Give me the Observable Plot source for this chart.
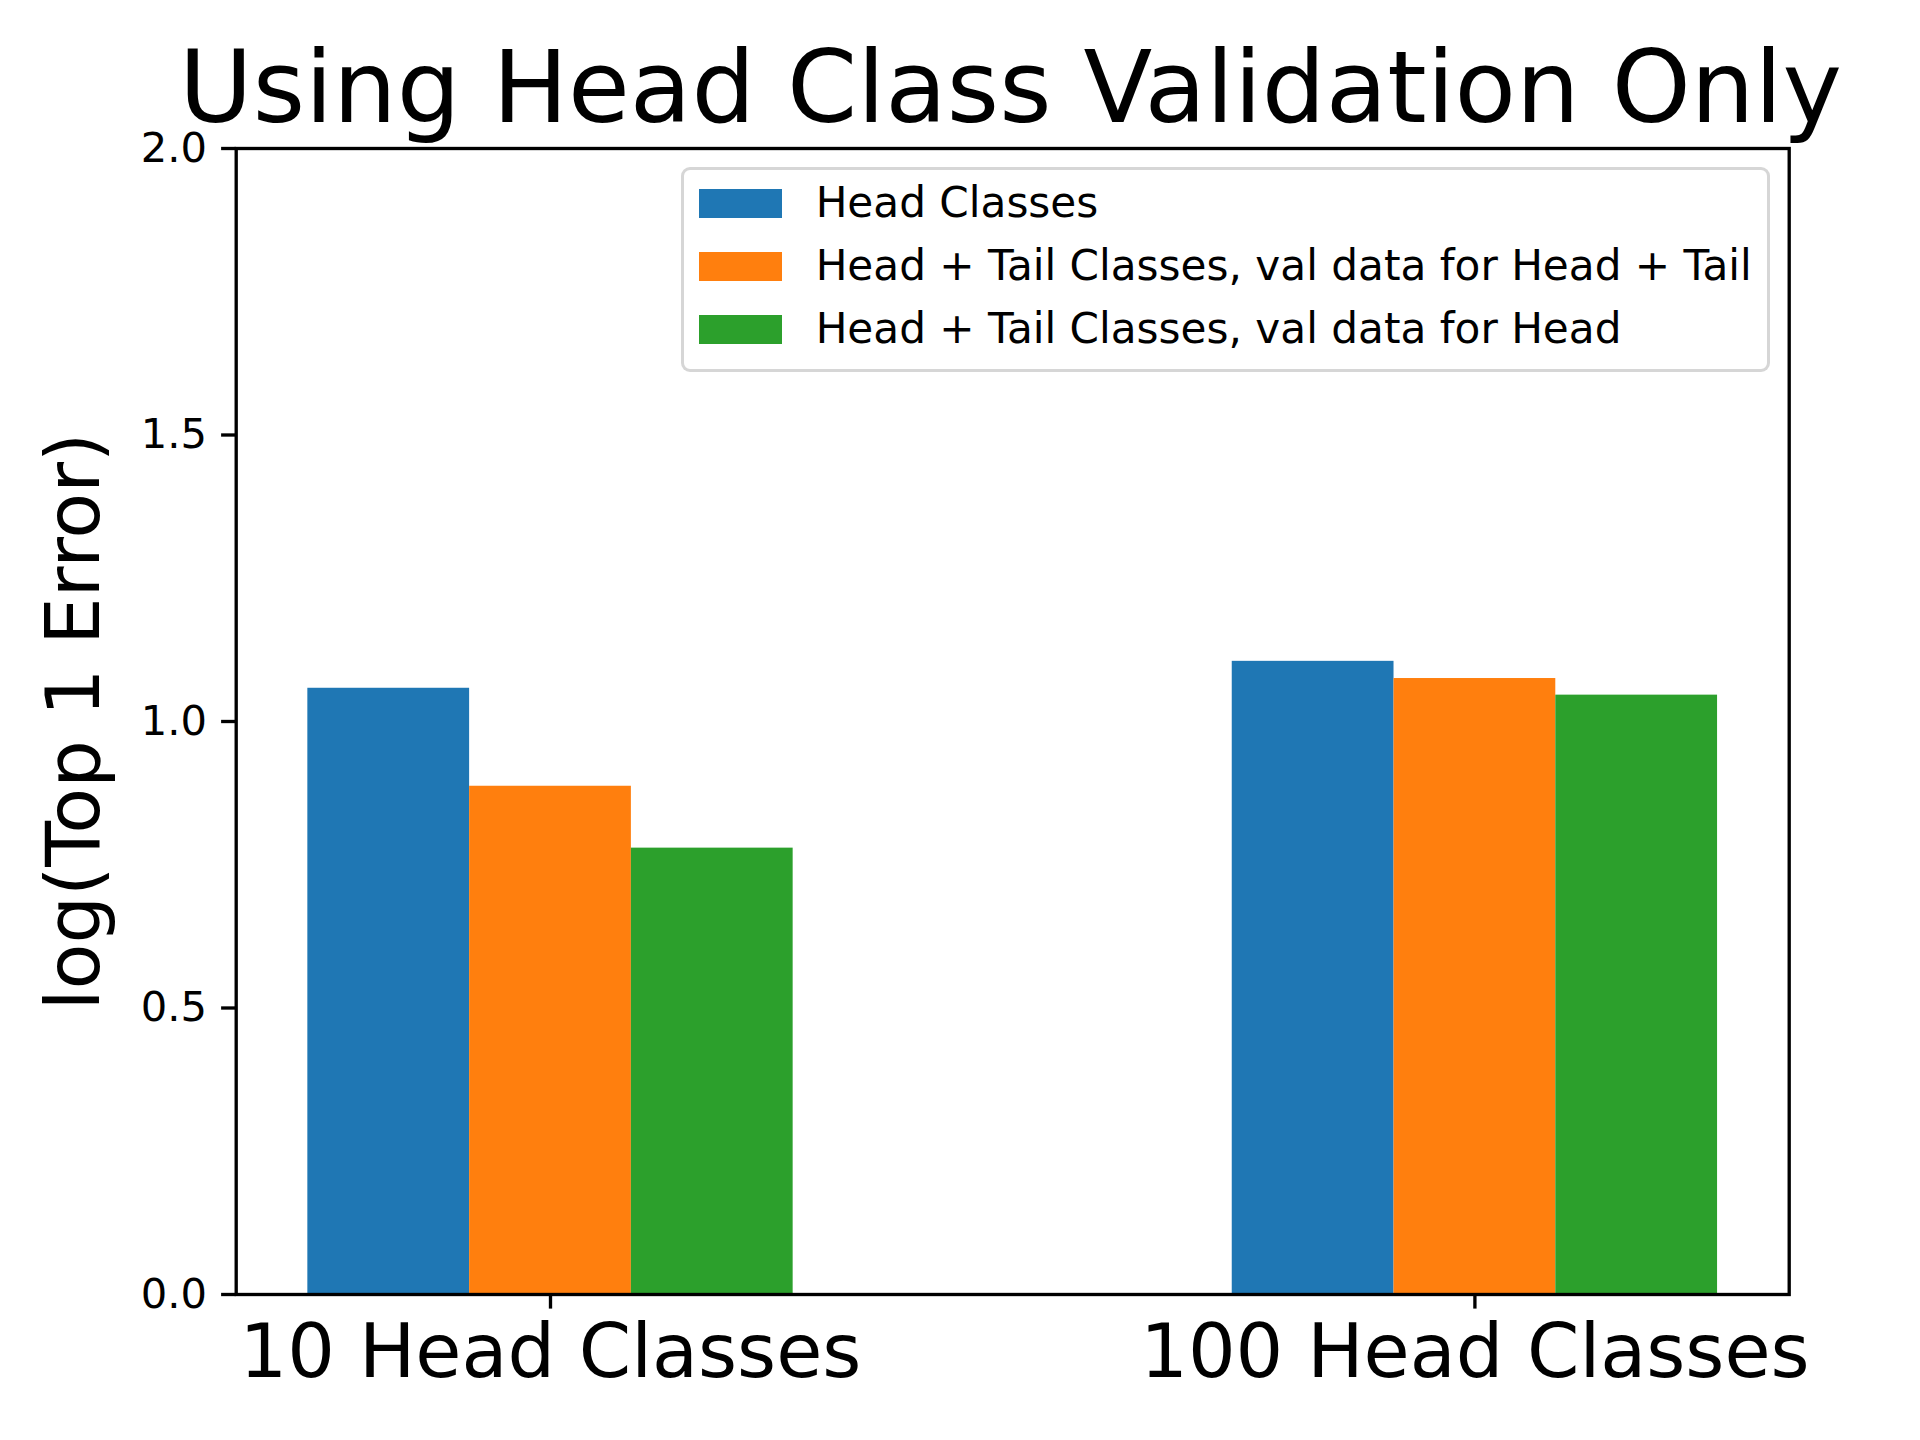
<!DOCTYPE html>
<html>
<head>
<meta charset="utf-8">
<script src="https://cdn.jsdelivr.net/npm/d3@7"></script>
<script src="https://cdn.jsdelivr.net/npm/@observablehq/plot@0.6"></script>
<style>
  html, body { margin: 0; padding: 0; background: white; }
  #wrap { position: relative; width: 1920px; height: 1440px; font-family: "DejaVu Sans", sans-serif; color: black; overflow: hidden; }
  #title { position: absolute; left: 1010.5px; top: 53.1px; transform: translateX(-50%); font-size: 100.5px; line-height: 70px; white-space: nowrap; }
  #legend { position: absolute; right: 150.3px; top: 166.8px; height: 204.8px; box-sizing: border-box; border: 3.33px solid rgba(204,204,204,0.8); border-radius: 9px; background: rgba(255,255,255,0.8); padding: 0 15px 0 15px; }
  .row { position: relative; height: 63.1px; display: flex; align-items: flex-start; }
  .sw { width: 83.3px; height: 28.6px; flex: none; margin-right: 33.3px; }
  .lt { font-size: 42.2px; line-height: 42.2px; white-space: nowrap; margin-top: -7.1px; }
</style>
</head>
<body>
<div id="wrap">
  <div id="chart"></div>
  <div id="title"></div>
  <div id="legend"></div>
</div>
<script>
const titleText = "Using Head Class Validation Only";
const yLabel = "log(Top 1 Error)";
const categories = ["10 Head Classes", "100 Head Classes"];
const series = [
  "Head Classes",
  "Head + Tail Classes, val data for Head + Tail",
  "Head + Tail Classes, val data for Head"
];
const headValues = [1.058, 1.105];
const headTailAllValValues = [0.887, 1.075];
const headTailHeadValValues = [0.779, 1.046];
const colors = ["#1f77b4", "#ff7f0e", "#2ca02c"];
const yTicks = [0, 0.5, 1.0, 1.5, 2.0];
const barWidth = 0.175;

const seriesValues = [headValues, headTailAllValValues, headTailHeadValValues];
const data = [];
seriesValues.forEach((vals, s) => {
  vals.forEach((v, g) => {
    data.push({group: g, category: categories[g], series: series[s], offset: s - 1, value: v});
  });
});

const W = 1920, H = 1440;
const plot = Plot.plot({
  width: W,
  height: H,
  marginLeft: 235.7,
  marginRight: 131.3,
  marginTop: 148,
  marginBottom: 146,
  style: {fontFamily: "DejaVu Sans, sans-serif", background: "white", color: "black", overflow: "visible"},
  x: {domain: [-0.34, 1.34]},
  y: {domain: [0, 2]},
  color: {domain: series, range: colors},
  marks: [
    Plot.rect(data, {
      x1: d => d.group + (d.offset - 0.5) * barWidth,
      x2: d => d.group + (d.offset + 0.5) * barWidth,
      y1: 0,
      y2: "value",
      fill: "series"
    }),
    Plot.frame({stroke: "black", strokeWidth: 3.33}),
    Plot.axisY({ticks: yTicks, tickFormat: d3.format(".1f"), tickSize: 14.6, tickPadding: 14.6, fontSize: 41.67, strokeWidth: 3.33, label: null}),
    Plot.axisX({ticks: [0, 1], tickFormat: i => categories[i], tickSize: 14.6, tickPadding: 14.6, fontSize: 75, strokeWidth: 3.33, label: null}),
    Plot.text([yLabel], {frameAnchor: "left", text: d => d, rotate: -90, dx: -161, fontSize: 75, textAnchor: "middle", lineAnchor: "middle", fill: "black"})
  ]
});
document.getElementById("chart").appendChild(plot);
document.getElementById("title").textContent = titleText;

const legend = document.getElementById("legend");
const inner = document.createElement("div");
inner.style.paddingTop = (189.3 - 166.8 - 3.33) + "px";
legend.appendChild(inner);
series.forEach((name, i) => {
  const row = document.createElement("div");
  row.className = "row";
  const sw = document.createElement("div");
  sw.className = "sw";
  sw.style.background = colors[i];
  row.appendChild(sw);
  const t = document.createElement("div");
  t.className = "lt";
  t.textContent = name;
  row.appendChild(t);
  inner.appendChild(row);
});
</script>
</body>
</html>
